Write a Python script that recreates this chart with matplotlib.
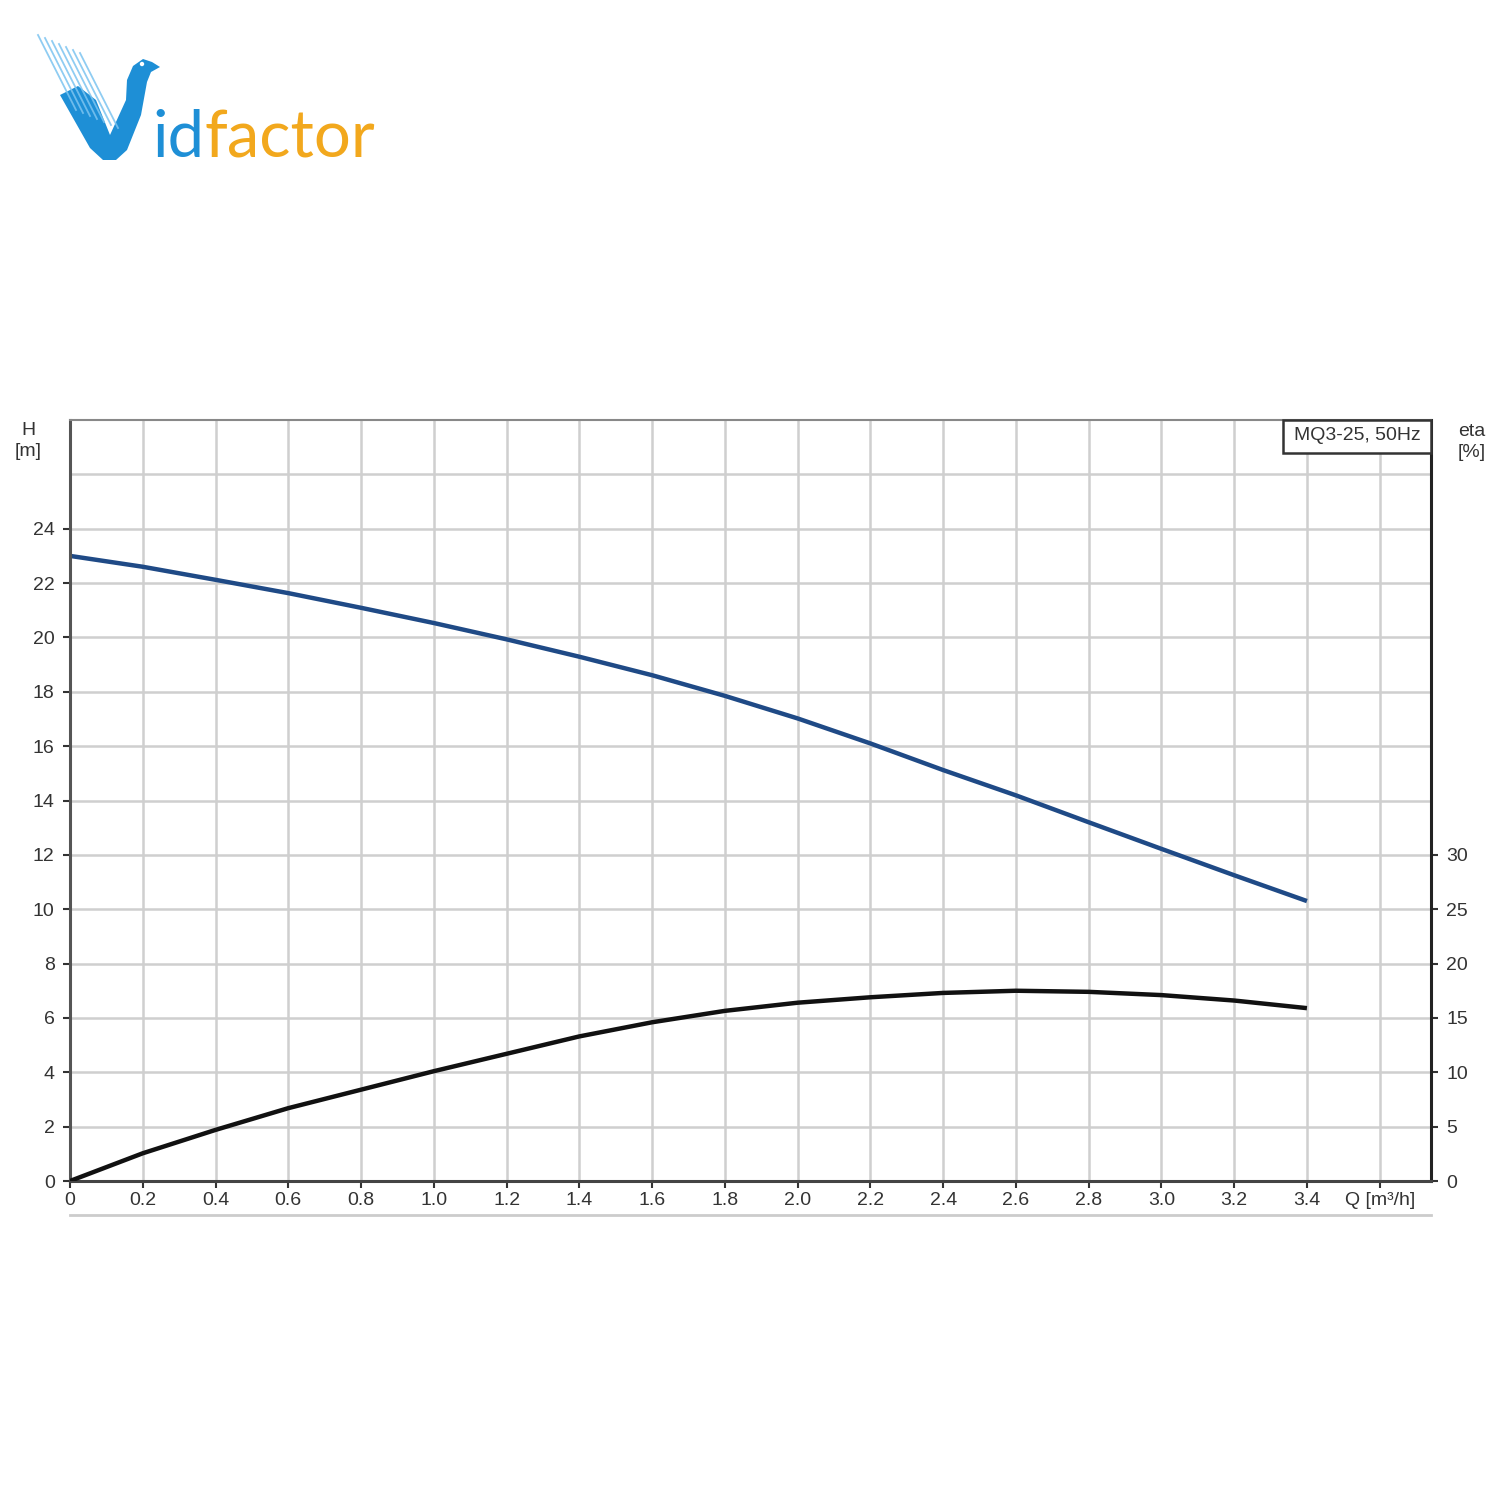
import matplotlib
matplotlib.use("Agg")
import matplotlib.pyplot as plt
from matplotlib.patches import Polygon, Rectangle, Circle
import numpy as np

# ---- data ----
q = [0.0, 0.2, 0.4, 0.6, 0.8, 1.0, 1.2, 1.4, 1.6, 1.8, 2.0, 2.2, 2.4, 2.6, 2.8, 3.0, 3.2, 3.4]
head = [23.0, 22.6, 22.12, 21.63, 21.09, 20.53, 19.93, 19.29, 18.61, 17.85, 17.02, 16.1, 15.12, 14.19,
        13.2, 12.22, 11.25, 10.3]
eta = [0.0, 2.55, 4.7, 6.7, 8.4, 10.1, 11.7, 13.3, 14.6, 15.65, 16.4, 16.9, 17.3, 17.5, 17.4, 17.1,
       16.6, 15.9]
x_ticks = [0.0, 0.2, 0.4, 0.6, 0.8, 1.0, 1.2, 1.4, 1.6, 1.8, 2.0, 2.2, 2.4, 2.6, 2.8, 3.0, 3.2, 3.4, 3.6]
x_labels = ["0", "0.2", "0.4", "0.6", "0.8", "1.0", "1.2", "1.4", "1.6", "1.8", "2.0", "2.2", "2.4",
            "2.6", "2.8", "3.0", "3.2", "3.4", "Q [m³/h]"]
h_ticks = [0, 2, 4, 6, 8, 10, 12, 14, 16, 18, 20, 22, 24]
eta_ticks = [0, 5, 10, 15, 20, 25, 30]
legend_text = "MQ3-25, 50Hz"

plt.rcParams['font.family'] = ['Liberation Sans', 'DejaVu Sans']
W = H = 1500.0
fig = plt.figure(figsize=(15, 15), dpi=100)
fig.patch.set_facecolor('white')


def fx(px):
    return px / W


def fy(py):
    return 1 - py / H


ax = fig.add_axes([fx(70), fy(1181), (1431 - 70) / W, (1181 - 420) / H])
ax.set_xlim(0, 3.741)
ax.set_ylim(0, 28)

# grid
for xv in np.arange(0.2, 3.7, 0.2):
    ax.axvline(xv, color='#cfcfcf', lw=1.8, zorder=1)
for yv in range(2, 28, 2):
    ax.axhline(yv, color='#cfcfcf', lw=1.8, zorder=1)

ax.plot(q, head, color='#1f4a86', lw=3.2, solid_capstyle='butt', zorder=3)

ax2 = ax.twinx()
ax2.set_ylim(0, 70)
ax2.plot(q, eta, color='#111111', lw=3.2, solid_capstyle='butt', zorder=3)

ax.set_xticks(x_ticks)
ax.set_xticklabels(x_labels)
ax.set_yticks(h_ticks)
ax.set_yticklabels([str(v) for v in h_ticks])
ax2.set_yticks(eta_ticks)
ax2.set_yticklabels([str(v) for v in eta_ticks])

for a in (ax, ax2):
    a.tick_params(labelsize=14, colors='#333333', length=5, width=1.5, pad=6)
ax.tick_params(axis='x', pad=3)

for s in ax.spines.values():
    s.set_visible(False)
ax2.spines['top'].set_color('#888888')
ax2.spines['top'].set_linewidth(1.5)
ax2.spines['left'].set_color('#555555')
ax2.spines['left'].set_linewidth(2.2)
ax2.spines['bottom'].set_color('#444444')
ax2.spines['bottom'].set_linewidth(2.2)
ax2.spines['right'].set_color('#222222')
ax2.spines['right'].set_linewidth(2.2)

# axis titles
fig.text(fx(28), fy(441), "H\n[m]", ha='center', va='center', fontsize=14, color='#333333',
         linespacing=1.25)
fig.text(fx(1472), fy(442), "eta\n[%]", ha='center', va='center', fontsize=14, color='#333333',
         linespacing=1.25)

# legend box attached to top-right corner
fig.add_artist(Rectangle((fx(1283), fy(453)), (1431 - 1283) / W, 33 / H, transform=fig.transFigure,
                         fc='white', ec='#333333', lw=1.8, zorder=5))
fig.text(fx(1357), fy(436), legend_text, ha='center', va='center', fontsize=14, color='#333333',
         zorder=6)

# bottom gray line
fig.add_artist(plt.Line2D([fx(70), fx(1431)], [fy(1215), fy(1215)], color='#cccccc', lw=2))

# ---- logo ----
for i in range(7):
    x0, y0 = 38 + i * 7, 35 + i * 3
    fig.add_artist(plt.Line2D([fx(x0), fx(x0 + 38)], [fy(y0), fy(y0 + 75)],
                              color='#7cc4f0', lw=1.3, alpha=0.85))
bird = [(60, 95), (78, 86), (96, 100), (110, 135), (126, 100), (127, 80), (133, 66), (143, 59),
        (152, 62), (160, 67), (151, 72), (147, 82), (141, 115), (127, 150), (116, 160), (103, 160),
        (90, 148)]
fig.add_artist(Polygon([(fx(a), fy(b)) for a, b in bird], closed=True, transform=fig.transFigure,
                       fc='#1e8fd6', ec='none'))
fig.add_artist(Circle((fx(142), fy(64)), 2.2 / W, transform=fig.transFigure, fc='white', ec='none'))
fig.text(fx(152), fy(157), "id", fontsize=47, color='#1e8fd6',
         family=['Lato', 'DejaVu Sans'], va='baseline')
fig.text(fx(204), fy(157), "factor", fontsize=47, color='#f2a81d',
         family=['Lato', 'DejaVu Sans'], va='baseline')

fig.savefig("out.png", dpi=100, facecolor='white')
